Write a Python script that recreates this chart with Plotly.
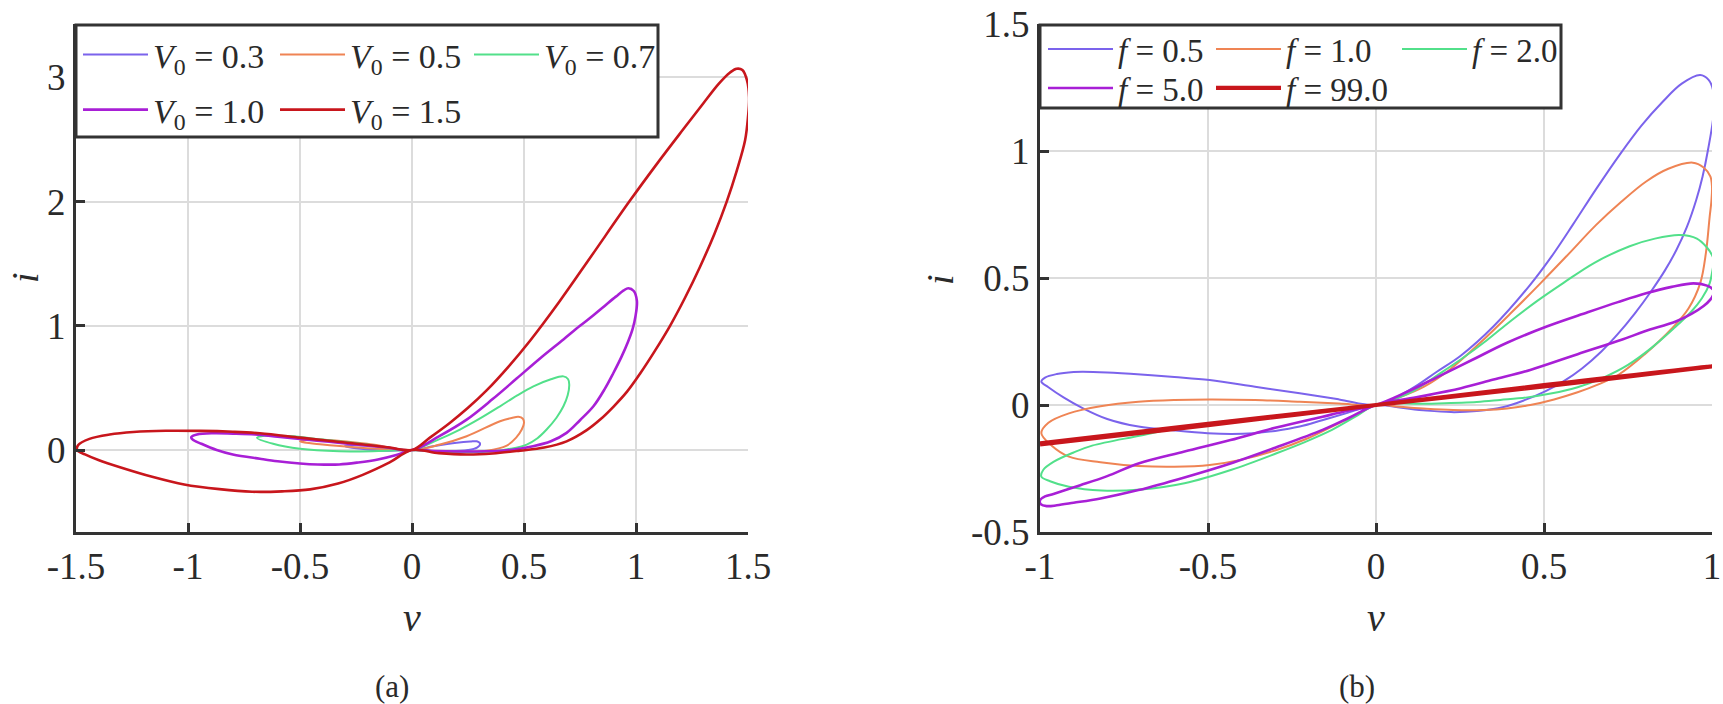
import plotly.graph_objects as go

W, H = 1723, 704

# ---------------- Panel (a): amplitude sweep ----------------
a_labels = ["<i>V</i><sub>0</sub> = 0.3", "<i>V</i><sub>0</sub> = 0.5", "<i>V</i><sub>0</sub> = 0.7",
            "<i>V</i><sub>0</sub> = 1.0", "<i>V</i><sub>0</sub> = 1.5"]

a03_v = [0, 0.095, 0.2, 0.26, 0.289, 0.304, 0.29, 0.25, 0.17, 0.08, 0, -0.1, -0.2, -0.28, -0.3, -0.26, -0.15, 0]
a03_i = [0, 0.03, 0.058, 0.068, 0.07, 0.05, 0.02, 0.0, -0.01, -0.008, 0, -0.005, 0.005, 0.022, 0.032, 0.038, 0.028, 0]

a05_v = [0, 0.125, 0.244, 0.393, 0.445, 0.475, 0.495, 0.5, 0.49, 0.465, 0.423, 0.333, 0.2, 0.1, 0,
         -0.2, -0.4, -0.48, -0.5, -0.47, -0.4, -0.2, 0]
a05_i = [0, 0.044, 0.111, 0.232, 0.258, 0.268, 0.252, 0.22, 0.165, 0.1, 0.036, -0.005, -0.015, -0.01, 0,
         0.015, 0.045, 0.06, 0.07, 0.08, 0.082, 0.05, 0]

a07_v = [0, 0.1, 0.214, 0.3, 0.393, 0.47, 0.542, 0.62, 0.676, 0.697, 0.702, 0.695, 0.676, 0.645, 0.601,
         0.56, 0.512, 0.44, 0.363, 0.2, 0.1, 0,
         -0.15, -0.325, -0.5, -0.62, -0.692, -0.66, -0.55, -0.4, -0.2, 0]
a07_i = [0, 0.07, 0.165, 0.25, 0.352, 0.44, 0.513, 0.57, 0.593, 0.57, 0.526, 0.44, 0.352, 0.26, 0.165,
         0.095, 0.044, 0.01, -0.01, -0.02, -0.01, 0,
         -0.008, -0.01, 0.01, 0.05, 0.098, 0.115, 0.112, 0.085, 0.045, 0]

a10_v = [0, 0.12, 0.244, 0.36, 0.467, 0.57, 0.676, 0.75, 0.81, 0.86, 0.91, 0.945, 0.966, 0.99, 1.004,
         0.998, 0.985, 0.964, 0.935, 0.899, 0.86, 0.81, 0.75, 0.69, 0.62, 0.54, 0.44, 0.333, 0.2, 0.1, 0,
         -0.07, -0.152, -0.24, -0.325, -0.42, -0.5, -0.6, -0.679, -0.8, -0.872, -0.94, -0.98, -0.985,
         -0.96, -0.887, -0.8, -0.7, -0.6, -0.5, -0.37, -0.25, -0.12, 0]
a10_i = [0, 0.11, 0.245, 0.41, 0.575, 0.735, 0.89, 1.0, 1.085, 1.16, 1.235, 1.285, 1.303, 1.28, 1.2,
         1.08, 0.975, 0.87, 0.75, 0.62, 0.49, 0.352, 0.24, 0.138, 0.07, 0.03, 0.0, -0.01, -0.012, -0.008, 0,
         -0.04, -0.076, -0.1, -0.116, -0.116, -0.108, -0.09, -0.07, -0.036, 0.0, 0.05, 0.085, 0.105,
         0.125, 0.135, 0.132, 0.125, 0.108, 0.09, 0.066, 0.045, 0.022, 0]

a15_v = [0, 0.08, 0.17, 0.25, 0.333, 0.43, 0.527, 0.66, 0.8, 0.97, 1.1, 1.21, 1.3, 1.37, 1.42, 1.449,
         1.475, 1.495, 1.505, 1.5, 1.487, 1.45, 1.405, 1.35, 1.286, 1.22, 1.152, 1.085, 1.02, 0.96,
         0.9, 0.84, 0.78, 0.69, 0.59, 0.482, 0.36, 0.244, 0.12, 0,
         -0.1, -0.22, -0.33, -0.455, -0.58, -0.714, -0.86, -1.017, -1.16, -1.3, -1.4, -1.46, -1.495,
         -1.49, -1.44, -1.35, -1.244, -1.1, -0.946, -0.8, -0.679, -0.5, -0.35, -0.216, -0.1, 0]
a15_i = [0, 0.1, 0.22, 0.34, 0.48, 0.67, 0.88, 1.2, 1.56, 2.0, 2.32, 2.58, 2.79, 2.95, 3.04, 3.07,
         3.06, 2.98, 2.84, 2.68, 2.494, 2.25, 2.0, 1.74, 1.476, 1.23, 1.0, 0.8, 0.62, 0.47,
         0.35, 0.245, 0.16, 0.07, 0.02, -0.005, -0.028, -0.036, -0.025, 0,
         -0.1, -0.2, -0.27, -0.317, -0.333, -0.336, -0.315, -0.277, -0.215, -0.14, -0.08, -0.035, 0.0,
         0.04, 0.09, 0.125, 0.145, 0.155, 0.154, 0.147, 0.135, 0.1, 0.07, 0.044, 0.02, 0]

a_v = [a03_v, a05_v, a07_v, a10_v, a15_v]
a_i = [a03_i, a05_i, a07_i, a10_i, a15_i]

a_xticks = [-1.5, -1, -0.5, 0, 0.5, 1, 1.5]
a_xtext = ["-1.5", "-1", "-0.5", "0", "0.5", "1", "1.5"]
a_yticks = [0, 1, 2, 3]
a_ytext = ["0", "1", "2", "3"]

# ---------------- Panel (b): frequency sweep ----------------
b_labels = ["<i>f</i> = 0.5", "<i>f</i> = 1.0", "<i>f</i> = 2.0", "<i>f</i> = 5.0", "<i>f</i> = 99.0"]

b05_v = [0, 0.06, 0.116, 0.18, 0.253, 0.35, 0.457, 0.52, 0.586, 0.655, 0.725, 0.79, 0.854, 0.91, 0.965,
         0.99, 1.003, 1.005, 0.988, 0.972, 0.953, 0.925, 0.894, 0.86, 0.82, 0.77, 0.72, 0.67, 0.614,
         0.56, 0.505, 0.44, 0.38, 0.3, 0.223, 0.15, 0.07, 0,
         -0.09, -0.16, -0.227, -0.3, -0.364, -0.43, -0.501, -0.6, -0.707, -0.8, -0.872, -0.93, -0.975,
         -0.996, -0.985, -0.95, -0.9, -0.872, -0.8, -0.7, -0.6, -0.495, -0.36, -0.227, -0.11, 0]
b05_i = [0, 0.03, 0.072, 0.13, 0.195, 0.31, 0.47, 0.58, 0.71, 0.85, 0.985, 1.1, 1.195, 1.265, 1.299,
         1.28, 1.24, 1.15, 1.004, 0.9, 0.807, 0.7, 0.61, 0.53, 0.45, 0.36, 0.28, 0.21, 0.145,
         0.095, 0.055, 0.018, -0.008, -0.024, -0.028, -0.022, -0.01, 0,
         -0.033, -0.06, -0.085, -0.102, -0.111, -0.114, -0.111, -0.1, -0.085, -0.055, -0.013, 0.03, 0.07,
         0.092, 0.108, 0.122, 0.13, 0.131, 0.128, 0.12, 0.11, 0.098, 0.072, 0.046, 0.022, 0]

b10_v = [0, 0.07, 0.143, 0.22, 0.31, 0.4, 0.49, 0.57, 0.656, 0.73, 0.804, 0.87, 0.943, 0.975, 0.995,
         1.0, 0.998, 0.993, 0.982, 0.965, 0.93, 0.88, 0.8, 0.723, 0.66, 0.6, 0.53, 0.459, 0.39, 0.32,
         0.23, 0.15, 0.07, 0,
         -0.06, -0.131, -0.21, -0.296, -0.4, -0.495, -0.6, -0.707, -0.82, -0.914, -0.965, -0.996,
         -0.975, -0.914, -0.82, -0.707, -0.6, -0.495, -0.36, -0.227, -0.11, 0]
b10_i = [0, 0.03, 0.072, 0.14, 0.245, 0.36, 0.48, 0.59, 0.71, 0.8, 0.88, 0.93, 0.954, 0.935, 0.9,
         0.86, 0.8, 0.741, 0.6, 0.48, 0.38, 0.3, 0.2, 0.12, 0.08, 0.05, 0.022, 0.0, -0.014, -0.02,
         -0.02, -0.015, -0.007, 0,
         -0.04, -0.085, -0.135, -0.177, -0.215, -0.236, -0.243, -0.24, -0.225, -0.203, -0.16, -0.111,
         -0.07, -0.033, -0.005, 0.013, 0.02, 0.022, 0.02, 0.013, 0.006, 0]

b20_v = [0, 0.06, 0.116, 0.18, 0.253, 0.33, 0.4, 0.48, 0.557, 0.65, 0.755, 0.83, 0.904, 0.955, 0.985,
         1.0, 1.005, 1.0, 0.993, 0.97, 0.94, 0.885, 0.82, 0.75, 0.68, 0.6, 0.52, 0.45, 0.37, 0.3, 0.15, 0,
         -0.06, -0.131, -0.21, -0.296, -0.43, -0.57, -0.7, -0.817, -0.914, -0.97, -0.996, -0.99, -0.96,
         -0.9, -0.845, -0.7, -0.57, -0.43, -0.296, -0.15, 0]
b20_i = [0, 0.025, 0.059, 0.115, 0.18, 0.255, 0.33, 0.41, 0.48, 0.56, 0.625, 0.655, 0.669, 0.655, 0.62,
         0.59, 0.571, 0.52, 0.479, 0.42, 0.37, 0.3, 0.225, 0.158, 0.11, 0.07, 0.045, 0.03, 0.02, 0.012, 0.005, 0,
         -0.045, -0.098, -0.145, -0.19, -0.255, -0.308, -0.333, -0.337, -0.322, -0.3, -0.282, -0.255, -0.224,
         -0.187, -0.16, -0.12, -0.085, -0.062, -0.042, -0.02, 0]

b50_v = [0, 0.09, 0.184, 0.29, 0.39, 0.51, 0.63, 0.72, 0.804, 0.88, 0.945, 0.985, 1.003, 1.005, 0.995,
         0.975, 0.94, 0.894, 0.8, 0.733, 0.6, 0.459, 0.35, 0.253, 0.12, 0,
         -0.08, -0.159, -0.3, -0.433, -0.57, -0.707, -0.82, -0.9, -0.95, -0.98, -0.998, -1.0, -0.985,
         -0.96, -0.88, -0.8, -0.707, -0.57, -0.433, -0.3, -0.159, -0.08, 0]
b50_i = [0, 0.05, 0.111, 0.18, 0.245, 0.31, 0.365, 0.405, 0.44, 0.465, 0.479, 0.47, 0.455, 0.44, 0.415,
         0.39, 0.36, 0.33, 0.29, 0.258, 0.2, 0.138, 0.1, 0.066, 0.03, 0,
         -0.05, -0.098, -0.168, -0.23, -0.285, -0.335, -0.368, -0.385, -0.395, -0.398, -0.39, -0.375, -0.36,
         -0.35, -0.316, -0.28, -0.23, -0.183, -0.138, -0.09, -0.046, -0.022, 0]

b99_v = [-1.0, -0.5, 0, 0.5, 1.0, 0.5, 0, -0.5, -1.0]
b99_i = [-0.155, -0.079, 0, 0.078, 0.152, 0.073, 0, -0.074, -0.151]

b_v = [b05_v, b10_v, b20_v, b50_v, b99_v]
b_i = [b05_i, b10_i, b20_i, b50_i, b99_i]

b_xticks = [-1, -0.5, 0, 0.5, 1]
b_xtext = ["-1", "-0.5", "0", "0.5", "1"]
b_yticks = [-0.5, 0, 0.5, 1, 1.5]
b_ytext = ["-0.5", "0", "0.5", "1", "1.5"]

# ---------------- styles ----------------
colors = ["#7b63ec", "#ef8454", "#52e08a", "#a81fd6", "#c8161c"]
a_widths = [2, 2, 2, 2.6, 2.6]
b_widths = [2, 2, 2, 2.6, 4.2]
FONT = "Liberation Serif"
INK = "#2a2a2a"


def px(x):
    return x / W


def py(y):
    return 1 - y / H


fig = go.Figure()

# legend positions (pixel: line start x, row centre y)
a_leg_pos = [(82, 55), (279, 55), (473, 55), (82, 110), (279, 110)]
b_leg_pos = [(1047, 49), (1215, 49), (1401, 49), (1047, 88), (1215, 88)]

legends = {}
for k in range(5):
    name = "legend" if k == 0 else f"legend{k + 1}"
    fig.add_trace(go.Scatter(x=a_v[k], y=a_i[k], mode="lines", name=a_labels[k],
                             line=dict(color=colors[k], width=a_widths[k], shape="spline", smoothing=1.0),
                             xaxis="x", yaxis="y", legend=name))
    legends[name] = (a_leg_pos[k], 34)
for k in range(5):
    name = f"legend{k + 6}"
    fig.add_trace(go.Scatter(x=b_v[k], y=b_i[k], mode="lines", name=b_labels[k],
                             line=dict(color=colors[k], width=b_widths[k], shape="spline", smoothing=1.0),
                             xaxis="x2", yaxis="y2", legend=name))
    legends[name] = (b_leg_pos[k], 33)

layout_legends = {}
for name, ((lx, ly), fs) in legends.items():
    layout_legends[name] = dict(
        x=px(lx - 4), y=py(ly), xanchor="left", yanchor="middle",
        orientation="h", bgcolor="rgba(0,0,0,0)", borderwidth=0,
        itemwidth=65, font=dict(family=FONT, size=fs, color=INK),
        itemclick=False, itemdoubleclick=False)

y_dom = [py(532), py(24)]
axis_common = dict(showline=True, linecolor="#333333", linewidth=3, mirror=False,
                   ticks="inside", ticklen=9, tickwidth=2.5, tickcolor="#333333",
                   showgrid=True, gridcolor="#dcdcdc", gridwidth=1.6, zeroline=False,
                   automargin=False,
                   tickfont=dict(family=FONT, size=37, color=INK), tickmode="array")

fig.update_layout(
    width=W, height=H, margin=dict(l=0, r=0, t=0, b=0, pad=0, autoexpand=False),
    paper_bgcolor="white", plot_bgcolor="white", showlegend=True,
    font=dict(family=FONT, color=INK),
    xaxis=dict(domain=[px(76), px(748)], range=[-1.5, 1.5], tickvals=a_xticks, ticktext=a_xtext,
               anchor="y", **axis_common),
    yaxis=dict(domain=y_dom, range=[-0.66, 3.43], tickvals=a_yticks, ticktext=a_ytext,
               anchor="x", **axis_common),
    xaxis2=dict(domain=[px(1040), px(1712)], range=[-1, 1], tickvals=b_xticks, ticktext=b_xtext,
                anchor="y2", **axis_common),
    yaxis2=dict(domain=y_dom, range=[-0.5, 1.5], tickvals=b_yticks, ticktext=b_ytext,
                anchor="x2", **axis_common),
    **layout_legends,
)

# legend frames
for (x0, y0, x1, y1) in [(76, 25, 658, 137), (1040, 25, 1561, 108)]:
    fig.add_shape(type="rect", xref="paper", yref="paper", x0=px(x0), x1=px(x1), y0=py(y1), y1=py(y0),
                  line=dict(color="#333333", width=3), fillcolor="white", layer="above")

# axis titles and captions
ann = [
    ("<i>v</i>", 412, 617, 0, 40),
    ("<i>v</i>", 1376, 617, 0, 40),
    ("<i>i</i>", 25, 278, -90, 38),
    ("<i>i</i>", 940, 280, -90, 38),
    ("(a)", 392, 686, 0, 31),
    ("(b)", 1357, 686, 0, 31),
]
for text, x, y, ang, size in ann:
    fig.add_annotation(text=text, x=px(x), y=py(y), xref="paper", yref="paper", showarrow=False,
                       xanchor="center", yanchor="middle", textangle=ang,
                       font=dict(family=FONT, size=size, color=INK))

fig.write_html("out.html")
